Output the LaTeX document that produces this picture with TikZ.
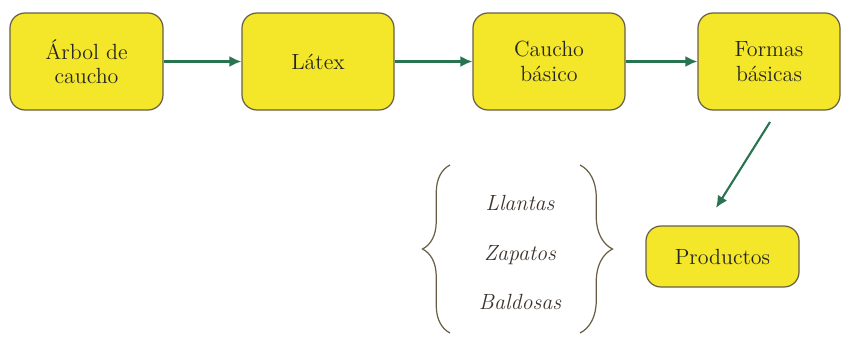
\documentclass[tikz,border=0pt]{standalone}
\usepackage{tikz}
\usetikzlibrary{arrows, arrows.meta, shapes, decorations.pathreplacing}
\definecolor{boxyellow}{RGB}{244,230,40}
\definecolor{boxedge}{RGB}{105,95,70}
\definecolor{arrowgreen}{RGB}{40,115,80}
\definecolor{textgray}{RGB}{60,52,45}
\tikzset{>=latex}
\tikzset{stage/.style={draw=boxedge, fill=boxyellow, rounded corners=0.3cm, line width=0.7pt,
  minimum width=3.06cm, minimum height=1.94cm, align=center,
  font=\rmfamily\fontsize{12.5}{14}\selectfont, text=black!85}}
\tikzset{flow/.style={-{Latex[length=2.4mm,width=2.2mm]}, draw=arrowgreen, fill=arrowgreen, line width=1.2pt}}
\tikzset{item/.style={font=\rmfamily\fontsize{12.5}{14}\selectfont\itshape, text=textgray}}

\begin{document}
\begin{tikzpicture}[scale = 1]
\useasboundingbox (0,0) rectangle (16.82,6.74);
\node[stage] (arbol) at (1.73,5.51) {Árbol de\\caucho};
\node[stage, minimum width=3.04cm] (latex) at (6.36,5.51) {Látex};
\node[stage, minimum width=3.04cm] (caucho) at (10.98,5.51) {Caucho\\básico};
\node[stage, minimum width=2.84cm] (formas) at (15.38,5.51) {Formas\\básicas};
\node[stage, minimum height=1.22cm] (productos) at (14.45,1.61) {Productos};
\draw[flow] (arbol.east) -- (latex.west);
\draw[flow] (latex.east) -- (caucho.west);
\draw[flow] (caucho.east) -- (formas.west);
\coordinate (desde) at (15.40,4.30);
\coordinate (hacia) at (14.32,2.58);
\draw[flow] (desde) -- (hacia);
\node[item] (llantas) at (10.4,2.68) {Llantas};
\node[item] (zapatos) at (10.4,1.64) {Zapatos};
\node[item] (baldosas) at (10.4,0.70) {Baldosas};
\draw[boxedge, line width=0.7pt, decorate, decoration={brace, amplitude=0.55cm}] (9.0,0.08) -- (9.0,3.44);
\draw[boxedge, line width=0.7pt, decorate, decoration={brace, amplitude=0.65cm}] (11.6,3.44) -- (11.6,0.08);
\end{tikzpicture}
\end{document}
